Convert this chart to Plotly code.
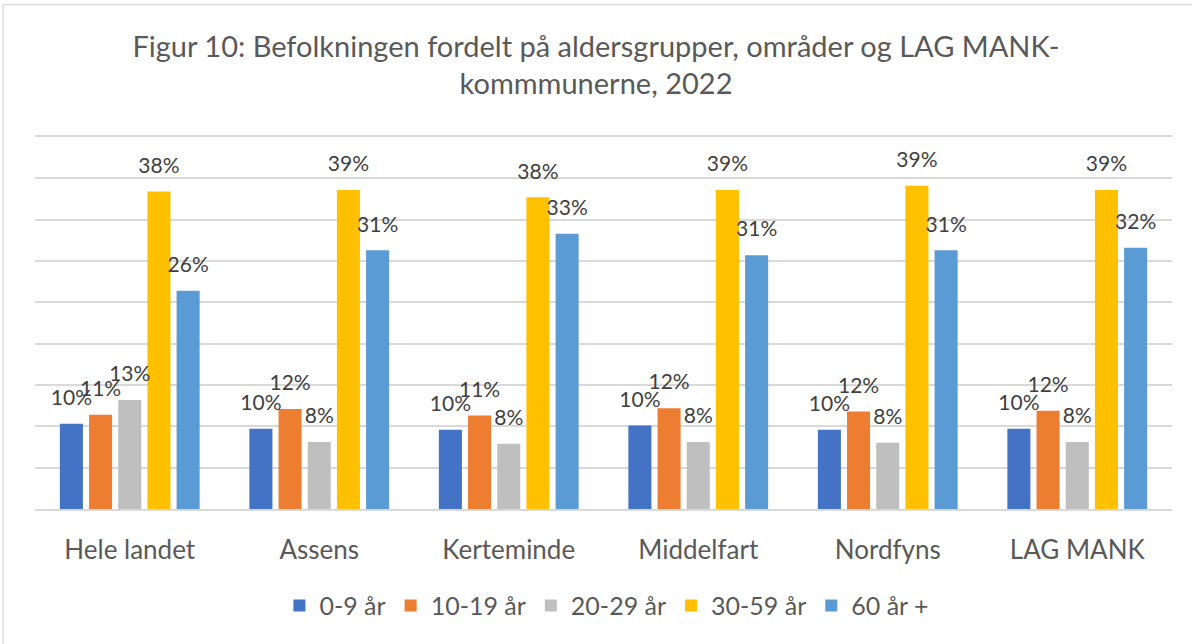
import plotly.graph_objects as go

categories = ["Hele landet", "Assens", "Kerteminde", "Middelfart", "Nordfyns", "LAG MANK"]
series_names = ["0-9 år", "10-19 år", "20-29 år", "30-59 år", "60 år +"]
age_0_9 = [10.3, 9.7, 9.6, 10.1, 9.6, 9.7]
age_10_19 = [11.4, 12.1, 11.3, 12.2, 11.8, 11.9]
age_20_29 = [13.2, 8.1, 7.9, 8.1, 8.0, 8.1]
age_30_59 = [38.4, 38.6, 37.7, 38.6, 39.1, 38.6]
age_60_plus = [26.4, 31.3, 33.3, 30.7, 31.3, 31.6]
series_values = [age_0_9, age_10_19, age_20_29, age_30_59, age_60_plus]
colors = ["#4472C4", "#ED7D31", "#BFBFBF", "#FFC000", "#5B9BD5"]

FONT = "Lato"

fig = go.Figure()
for name, vals, col in zip(series_names, series_values, colors):
    fig.add_trace(go.Bar(
        x=categories, y=vals, name=name, marker=dict(color=col, line=dict(width=0)),
        offsetgroup=name, hoverinfo="skip",
    ))
for name, vals in zip(series_names, series_values):
    fig.add_trace(go.Scatter(
        x=categories, y=vals, mode="markers+text", offsetgroup=name,
        marker=dict(size=20, color="rgba(0,0,0,0)"),
        text=[f"{v:.0f}%" for v in vals], textposition="top center",
        textfont=dict(family=FONT, size=21, color="#404040"),
        showlegend=False, hoverinfo="skip", cliponaxis=False,
    ))

fig.update_layout(
    width=1192, height=644,
    margin=dict(l=35, r=20, t=137, b=135),
    paper_bgcolor="white", plot_bgcolor="white",
    barmode="group", bargap=0.23, bargroupgap=0.21,
    scattermode="group", scattergap=0.23,
    title=dict(
        text="Figur 10: Befolkningen fordelt på aldersgrupper, områder og LAG MANK-<br>kommmunerne, 2022",
        x=0.5, xanchor="center", y=0.912, yanchor="middle",
        font=dict(family=FONT, size=29, color="#595959"),
    ),
    legend=dict(
        orientation="h", x=0.503, xanchor="center", y=-0.26, yanchor="middle",
        font=dict(family=FONT, size=25, color="#595959"), itemclick=False,
    ),
    xaxis=dict(
        showgrid=False, showline=True, mirror=True, linecolor="#D9D9D9", linewidth=1.5,
        ticks="", ticklabelstandoff=17,
        tickfont=dict(family=FONT, size=26, color="#595959"),
    ),
    yaxis=dict(
        range=[0, 45], dtick=5, showticklabels=False, showgrid=True,
        gridcolor="#D9D9D9", gridwidth=1.5, zeroline=False, showline=False,
    ),
    shapes=[dict(
        type="rect", xref="paper", yref="paper",
        x0=-0.0281, x1=1.1, y0=-0.6, y1=1.3556,
        line=dict(color="#D9D9D9", width=1.3), fillcolor="rgba(0,0,0,0)", layer="below",
    )],
)

fig.write_html("out.html", config={"displayModeBar": False},
               post_script="document.body.style.margin='0';")
